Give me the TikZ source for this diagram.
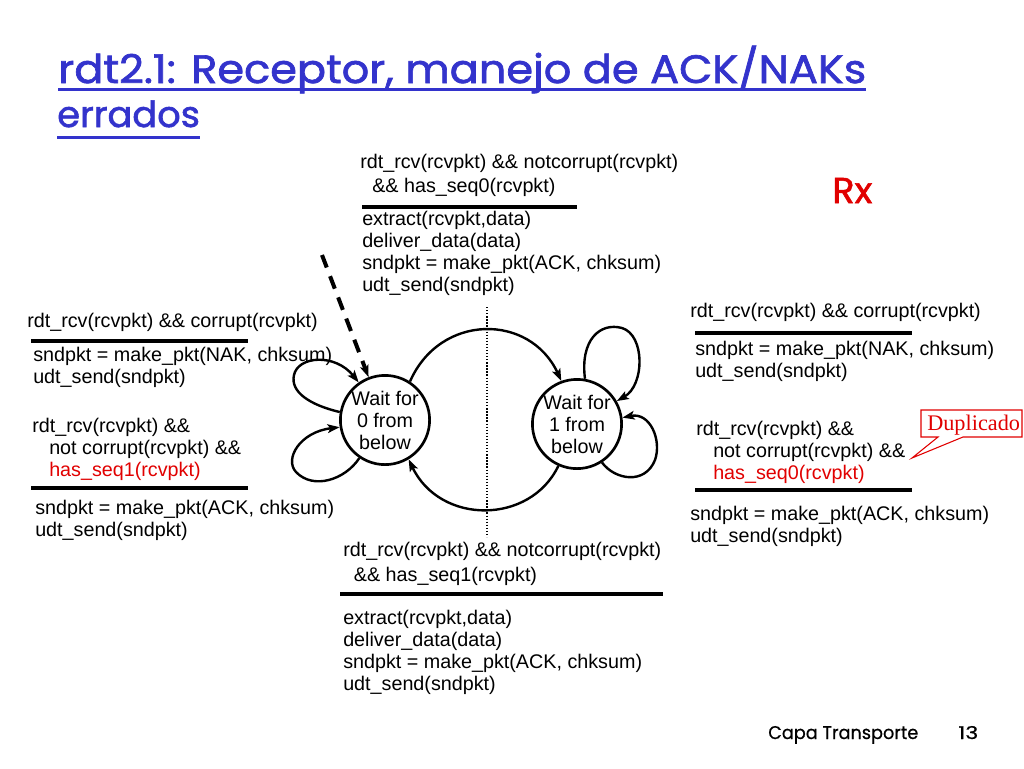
\documentclass[tikz,border=0pt]{standalone}
\usepackage{fontspec}
\setmainfont{Liberation Sans}
\newfontfamily\titlefont{Poppins}[FakeBold=1.6]
\newfontfamily\footfont{Poppins}[FakeBold=0.6]
\newfontfamily\dupfont{Liberation Serif}
\usetikzlibrary{arrows.meta}
\definecolor{titleblue}{RGB}{51,51,204}
\definecolor{redtxt}{RGB}{225,0,0}
\newcommand{\dhigh}[1]{\raisebox{0pt}[\fontcharht\font`\d][0pt]{#1}}
\begin{document}
\begin{tikzpicture}[x=0.75pt,y=-0.75pt,
  txt/.style={font=\fontsize{14.8pt}{16.5pt}\selectfont, align=left, inner sep=0pt, anchor=north west},
  rulebar/.style={line width=2.4pt},
  state/.style={circle, draw, line width=2pt, minimum size=66pt, inner sep=0pt, align=center, font=\fontsize{14.8pt}{16.5pt}\selectfont},
  trans/.style={line width=1.8pt, -{Stealth[length=9pt,width=6.5pt,inset=2pt]}},
  titletxt/.style={text=titleblue, inner sep=0pt, anchor=base west, font=\titlefont},
  uline/.style={draw=titleblue, line width=2.25pt}
]
\path[use as bounding box, fill=white] (0,0) rectangle (1024,768);

% title
\node[titletxt] (title1) at (58,83) {\resizebox{606pt}{22pt}{\dhigh{rdt2.1: Receptor, manejo de ACK/NAKs}}};
\node[titletxt] (title2) at (57,127) {\resizebox{107pt}{20pt}{\dhigh{errados}}};
\draw[uline] (58,89) -- (866,89);
\draw[uline] (57,137) -- (200,137);

% Rx
\node[text=redtxt, inner sep=0pt, anchor=base west, font=\titlefont] (rx) at (832,203) {\resizebox{30pt}{18.75pt}{Rx}};

% states
\node[state] (s0) at (385,420) {Wait for\\0 from\\below};
\node[state] (s1) at (577,424) {Wait for\\1 from\\below};

% dotted divider
\coordinate (dtop) at (487,307);
\coordinate (dbot) at (487,537);
\draw[line width=1.3pt, dash pattern=on 1pt off 1.3pt] (dtop) -- (dbot);

% top block
\node[txt] (c0) at (360,154) {rdt\_rcv(rcvpkt) \&\& notcorrupt(rcvpkt)\\[1.5pt]\hspace*{9pt}\&\& has\_seq0(rcvpkt)};
\draw[rulebar] (362,207) -- (577,207);
\node[txt] (a0) at (362,211) {extract(rcvpkt,data)\\deliver\_data(data)\\sndpkt = make\_pkt(ACK, chksum)\\udt\_send(sndpkt)};

% left block
\node[txt] (lc1) at (27,313) {rdt\_rcv(rcvpkt) \&\& corrupt(rcvpkt)};
\draw[rulebar] (31,341) -- (248,341);
\node[txt] (la1) at (33,347) {sndpkt = make\_pkt(NAK, chksum)\\udt\_send(sndpkt)};
\node[txt] (lc2) at (32,418) {rdt\_rcv(rcvpkt) \&\&\\\hspace*{12.75pt}not corrupt(rcvpkt) \&\&\\\hspace*{12.75pt}\textcolor{redtxt}{has\_seq1(rcvpkt)}};
\draw[rulebar] (31,488) -- (248,488);
\node[txt] (la2) at (35,500) {sndpkt = make\_pkt(ACK, chksum)\\udt\_send(sndpkt)};

% right block
\node[txt] (rc1) at (690,303) {rdt\_rcv(rcvpkt) \&\& corrupt(rcvpkt)};
\draw[rulebar] (695,333) -- (912,333);
\node[txt] (ra1) at (695,341) {sndpkt = make\_pkt(NAK, chksum)\\udt\_send(sndpkt)};
\node[txt] (rc2) at (696,421) {rdt\_rcv(rcvpkt) \&\&\\\hspace*{12.75pt}not corrupt(rcvpkt) \&\&\\\hspace*{12.75pt}\textcolor{redtxt}{has\_seq0(rcvpkt)}};
\draw[rulebar] (695,490) -- (912,490);
\node[txt] (ra2) at (690,506) {sndpkt = make\_pkt(ACK, chksum)\\udt\_send(sndpkt)};

% bottom block
\node[txt] (c1) at (343,542) {rdt\_rcv(rcvpkt) \&\& notcorrupt(rcvpkt)\\[2pt]\hspace*{8pt}\&\& has\_seq1(rcvpkt)};
\draw[rulebar] (340,594) -- (663,594);
\node[txt] (a1) at (343,610) {extract(rcvpkt,data)\\deliver\_data(data)\\sndpkt = make\_pkt(ACK, chksum)\\udt\_send(sndpkt)};

% transitions between states
\draw[trans] (s0.57) .. controls (440,313) and (530,313) .. (s1.110);
\draw[trans] (s1.246) .. controls (530,525) and (440,525) .. (s0.301);

% initial dashed arrow
\coordinate (dstart) at (322,255);
\draw[trans, line width=3pt, dash pattern=on 10pt off 7pt] (dstart) -- (s0.111);

% self loops on s0
\draw[trans] (s0.170) .. controls (310,405) and (290,392) .. (294,375) .. controls (298,356) and (335,353) .. (s0.125);
\draw[trans] (s0.236) .. controls (345,480) and (313,490) .. (296,472) .. controls (284,459) and (300,432) .. (s0.189);

% self loops on s1
\draw[trans] (s1.80) .. controls (580,340) and (600,322) .. (622,328) .. controls (645,335) and (645,385) .. (s1.30);
\draw[trans] (s1.303) .. controls (615,480) and (645,485) .. (655,460) .. controls (662,440) and (650,412) .. (s1.8);

% callout
\draw[draw=redtxt, line width=0.8pt, fill=white] (921,410) -- (1022,410) -- (1022,437) -- (963,437) -- (912,458) -- (938,437) -- (921,437) -- cycle;
\node[text=redtxt, inner sep=0pt, anchor=base west, font=\dupfont\fontsize{16.7pt}{18pt}\selectfont] (dup) at (927,430) {Duplicado};

% footer
\node[inner sep=0pt, anchor=base west, font=\footfont] (foot) at (768,739) {\resizebox{112.5pt}{9.75pt}{Capa Transporte}};
\node[inner sep=0pt, anchor=base west, font=\footfont] (pgno) at (958,739) {\resizebox{15pt}{9.75pt}{13}};
\end{tikzpicture}
\end{document}
